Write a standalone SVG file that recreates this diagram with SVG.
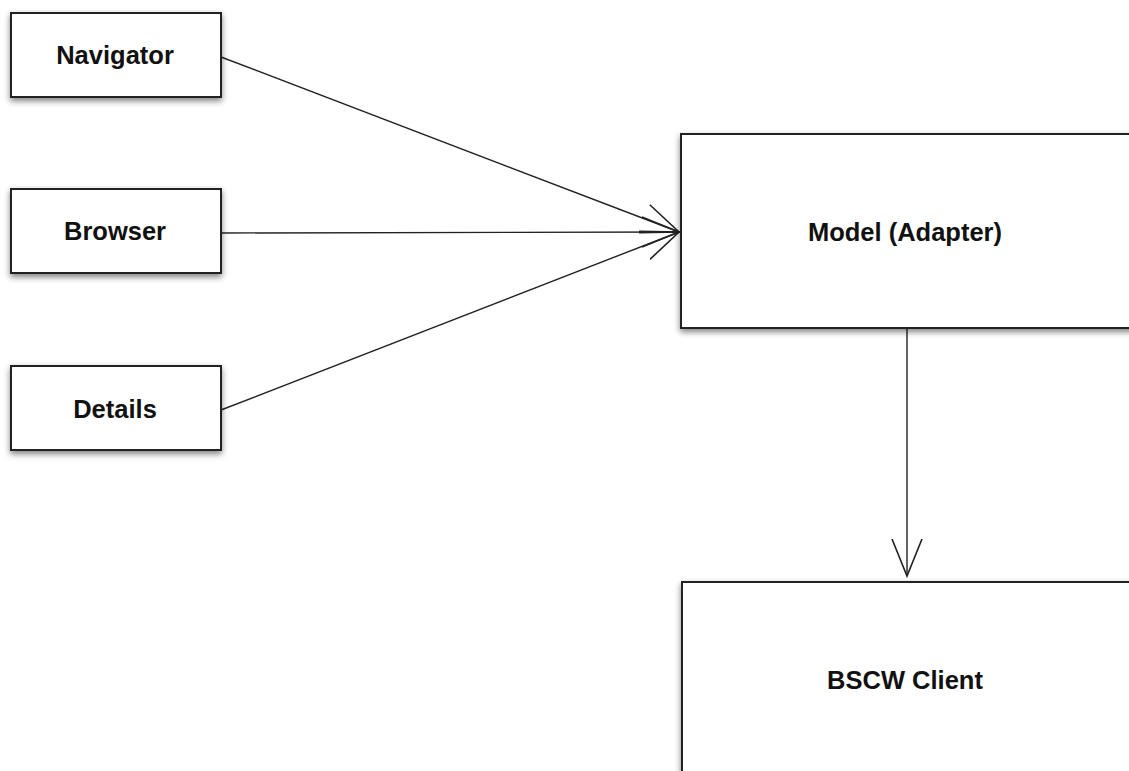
<svg xmlns="http://www.w3.org/2000/svg" width="1129" height="771" viewBox="0 0 1129 771">
<style>
.box{fill:#fff;stroke:#222;stroke-width:2;filter:url(#sh)}
.lbl{font-family:"Liberation Sans",Arial,sans-serif;font-weight:bold;font-size:25.5px;fill:#111;text-anchor:middle;dominant-baseline:central}
.con{stroke:#222;stroke-width:1.4;fill:none}
</style>
<defs>
<filter id="sh" x="-10%" y="-10%" width="130%" height="130%">
<feGaussianBlur in="SourceAlpha" stdDeviation="3"/>
<feOffset dx="0" dy="3" result="b"/>
<feComponentTransfer><feFuncA type="linear" slope="0.5"/></feComponentTransfer>
<feMerge><feMergeNode/><feMergeNode in="SourceGraphic"/></feMerge>
</filter>
<marker id="open" markerWidth="42" markerHeight="34" refX="37" refY="16" orient="auto" markerUnits="userSpaceOnUse">
<path d="M0,1 L37,16 L0,31" fill="none" stroke="#222" stroke-width="1.6"/>
</marker>
</defs>
<g id="connectors">
<line class="con" x1="221" y1="57" x2="679" y2="232" marker-end="url(#open)"/>
<line class="con" x1="221" y1="233" x2="679" y2="232" marker-end="url(#open)"/>
<line class="con" x1="221" y1="410" x2="679" y2="232" marker-end="url(#open)"/>
<line class="con" x1="907" y1="328" x2="907" y2="576" marker-end="url(#open)"/>
</g>
<g id="navigator"><rect class="box" x="11" y="13" width="210" height="84"/><text class="lbl" x="115" y="55">Navigator</text></g>
<g id="browser"><rect class="box" x="11" y="189" width="210" height="84"/><text class="lbl" x="115" y="231">Browser</text></g>
<g id="details"><rect class="box" x="11" y="366" width="210" height="84"/><text class="lbl" x="115" y="409">Details</text></g>
<g id="model"><rect class="box" x="681" y="134" width="460" height="194"/><text class="lbl" x="905" y="232">Model (Adapter)</text></g>
<g id="bscw"><rect class="box" x="682" y="582" width="460" height="200"/><text class="lbl" x="905" y="680">BSCW Client</text></g>
</svg>
